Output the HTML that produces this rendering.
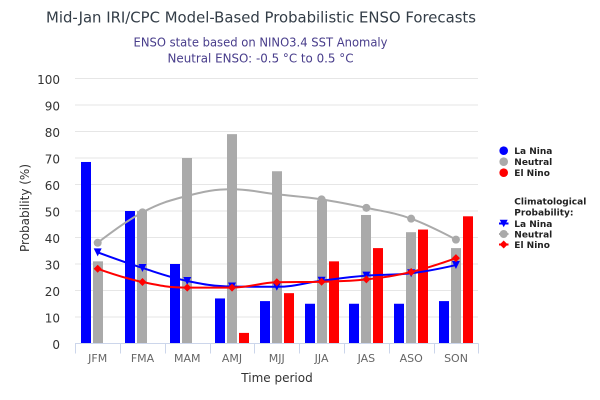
<!DOCTYPE html>
<html><head><meta charset="utf-8"><style>
html,body{margin:0;padding:0;background:#fff;}
svg{display:block;font-family:"DejaVu Sans","Liberation Sans",sans-serif;}
</style></head><body>
<svg id="c" width="600" height="400" viewBox="0 0 600 400" xmlns="http://www.w3.org/2000/svg">
<rect width="600" height="400" fill="#fff"/>
<text x="261" y="22.5" text-anchor="middle" font-size="15" fill="#333d47" textLength="430" lengthAdjust="spacingAndGlyphs">Mid-Jan IRI/CPC Model-Based Probabilistic ENSO Forecasts</text>
<text x="260.5" y="46.3" text-anchor="middle" font-size="12" fill="#483D8B" textLength="254" lengthAdjust="spacingAndGlyphs">ENSO state based on NINO3.4 SST Anomaly</text>
<text x="260.5" y="62.3" text-anchor="middle" font-size="12" fill="#483D8B" textLength="186" lengthAdjust="spacingAndGlyphs">Neutral ENSO: -0.5 °C to 0.5 °C</text>
<g id="grid" stroke="#e6e6e6" stroke-width="1"></g>
<g id="ylab" font-size="12" fill="#333" text-anchor="end">
<text x="60" y="84">100</text><text x="60" y="110.5">90</text><text x="60" y="137">80</text><text x="60" y="163.5">70</text><text x="60" y="190">60</text><text x="60" y="216.5">50</text><text x="60" y="243">40</text><text x="60" y="269.5">30</text><text x="60" y="296">20</text><text x="60" y="322.5">10</text><text x="60" y="349">0</text>
</g>
<text transform="translate(29,208) rotate(-90)" text-anchor="middle" font-size="12" fill="#333">Probability (%)</text>
<g id="bars"></g>
<g id="axis"></g>
<g font-size="11" fill="#666" text-anchor="middle">
<text x="97.7" y="362">JFM</text><text x="142.5" y="362">FMA</text><text x="187.3" y="362">MAM</text><text x="232" y="362">AMJ</text><text x="276.8" y="362">MJJ</text><text x="321.6" y="362">JJA</text><text x="366.4" y="362">JAS</text><text x="411.2" y="362">ASO</text><text x="456" y="362">SON</text>
</g>
<text x="277" y="382" text-anchor="middle" font-size="12" fill="#333">Time period</text>
<g id="lines"></g>
<g font-size="9" font-weight="bold" fill="#222">
<circle cx="503.7" cy="150.7" r="4.3" fill="#0000ff"/>
<circle cx="503.7" cy="161.7" r="4.3" fill="#aaaaaa"/>
<circle cx="503.7" cy="172.7" r="4.3" fill="#ff0000"/>
<text x="514.3" y="154">La Nina</text>
<text x="514.3" y="165">Neutral</text>
<text x="514.3" y="176">El Nino</text>
<text x="514.3" y="204.3">Climatological</text>
<text x="514.3" y="215.3">Probability:</text>
<text x="514.3" y="227">La Nina</text>
<text x="514.3" y="237.5">Neutral</text>
<text x="514.3" y="248">El Nino</text>
<line x1="499" y1="223.5" x2="508.5" y2="223.5" stroke="#0000ff" stroke-width="2"/>
<path d="M499.7,219.7 L507.7,219.7 L503.7,227.2 Z" fill="#0000ff"/>
<line x1="499" y1="234" x2="508.5" y2="234" stroke="#aaaaaa" stroke-width="2"/>
<circle cx="503.7" cy="234" r="4" fill="#aaaaaa"/>
<line x1="499" y1="244.5" x2="508.5" y2="244.5" stroke="#ff0000" stroke-width="2"/>
<path d="M503.7,240.5 L507.7,244.5 L503.7,248.5 L499.7,244.5 Z" fill="#ff0000"/>
</g>
</svg>
<script>
(function(){
var NS="http://www.w3.org/2000/svg";
function el(n,a,p){var e=document.createElementNS(NS,n);for(var k in a)e.setAttribute(k,a[k]);p.appendChild(e);return e;}
function yv(v){return 343.5-2.65*v;}
var L=75.3,W=44.78;
function cx(i){return L+W*(i+0.5);}
var grid=document.getElementById('grid');
for(var k=1;k<=10;k++){var y=343.5-26.5*k;el('line',{x1:75,x2:478,y1:y,y2:y},grid);}
var bars=document.getElementById('bars');
var ln=[68.5,50,30,17,16,15,15,15,16],ne=[31,50,70,79,65,54,48.5,42,36],en=[0,0,0,4,19,31,36,43,48];
for(var i=0;i<9;i++){
 var bx=Math.round(L+W*i+5.4);
 [[ln[i],'#0000ff'],[ne[i],'#aaaaaa'],[en[i],'#ff0000']].forEach(function(s,j){
  if(s[0]>0){var t=yv(s[0]);el('rect',{x:bx+12*j,y:t,width:10,height:343.5-t,fill:s[1]},bars);}
 });
}
var ax=document.getElementById('axis');
el('line',{x1:75,x2:478.5,y1:343.5,y2:343.5,stroke:'#ccd6eb','stroke-width':1},ax);
for(var k=0;k<=9;k++){var x=Math.round(L+W*k)+0.5;el('line',{x1:x,x2:x,y1:343.5,y2:353.5,stroke:'#ccd6eb','stroke-width':1},ax);}
function spline(p){
 var sm=1.5,d=2.5,lc=[],rc=[];
 for(var i=1;i<p.length-1;i++){
  var px=p[i][0],py=p[i][1],lx=p[i-1][0],ly=p[i-1][1],nx=p[i+1][0],ny=p[i+1][1];
  var lcx=(sm*px+lx)/d,lcy=(sm*py+ly)/d,rcx=(sm*px+nx)/d,rcy=(sm*py+ny)/d;
  if(rcx!==lcx){var c=((rcy-lcy)*(rcx-px))/(rcx-lcx)+py-rcy;lcy+=c;rcy+=c;}
  if(lcy>ly&&lcy>py){lcy=Math.max(ly,py);rcy=2*py-lcy;}else if(lcy<ly&&lcy<py){lcy=Math.min(ly,py);rcy=2*py-lcy;}
  if(rcy>ny&&rcy>py){rcy=Math.max(ny,py);lcy=2*py-rcy;}else if(rcy<ny&&rcy<py){rcy=Math.min(ny,py);lcy=2*py-rcy;}
  lc[i]=[lcx,lcy];rc[i]=[rcx,rcy];
 }
 var s='M'+p[0][0]+','+p[0][1];
 for(var i=1;i<p.length;i++){var a=rc[i-1]||p[i-1],b=lc[i]||p[i];s+=' C'+a[0]+','+a[1]+' '+b[0]+','+b[1]+' '+p[i][0]+','+p[i][1];}
 return s;
}
var lines=document.getElementById('lines');
var cn=[38,49.5,55.7,58.2,56.3,54.4,51.2,47.1,39.2];
var cl=[34.4,28.5,23.6,21.5,21.4,23.7,25.6,26.5,29.6];
var ce=[28.2,23.2,21.1,21.1,23.1,23.3,24.2,27,32.2];
function pts(a){return a.map(function(v,i){return [cx(i),yv(v)];});}
var pn=pts(cn),pl=pts(cl),pe=pts(ce);
el('path',{d:spline(pn),fill:'none',stroke:'#aaaaaa','stroke-width':2},lines);
pn.forEach(function(q){el('circle',{cx:q[0],cy:q[1],r:4,fill:'#aaaaaa'},lines);});
el('path',{d:spline(pl),fill:'none',stroke:'#0000ff','stroke-width':2},lines);
pl.forEach(function(q){el('path',{d:'M'+(q[0]-4)+','+(q[1]-4)+' L'+(q[0]+4)+','+(q[1]-4)+' L'+q[0]+','+(q[1]+4)+' Z',fill:'#0000ff'},lines);});
el('path',{d:spline(pe),fill:'none',stroke:'#ff0000','stroke-width':2},lines);
pe.forEach(function(q){el('path',{d:'M'+q[0]+','+(q[1]-4)+' L'+(q[0]+4)+','+q[1]+' L'+q[0]+','+(q[1]+4)+' L'+(q[0]-4)+','+q[1]+' Z',fill:'#ff0000'},lines);});
})();
</script>
</body></html>
